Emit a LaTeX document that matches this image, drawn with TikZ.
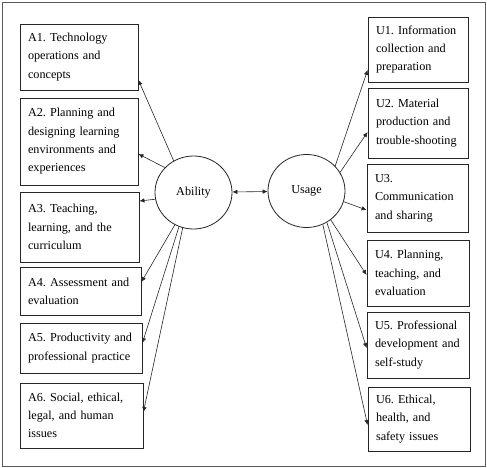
\documentclass[tikz,border=0pt]{standalone}
\usepackage{fontspec}
\setmainfont{Liberation Serif}
\usepackage{tikz}
\usetikzlibrary{arrows.meta,shapes.geometric}
\definecolor{FrameGray}{HTML}{5A5A5A}
\frenchspacing

\begin{document}
\begin{tikzpicture}[x=1pt, y=-1pt,
  dim/.style={draw=black!85, line width=0.8pt, align=left, inner xsep=8pt, inner ysep=2pt, font=\fontsize{12.2}{18.3}\selectfont},
  lat/.style={draw=black!85, line width=0.8pt, ellipse, minimum width=77pt, minimum height=73pt, font=\fontsize{12.2}{15}\selectfont},
  flow/.style={-{Latex[length=5pt,width=4.5pt]}, semithick, black!85},
  dflow/.style={{Latex[length=5pt,width=4.5pt]}-{Latex[length=5pt,width=4.5pt]}, semithick, black!85}]
\useasboundingbox (0,0) rectangle (487,468);
\draw[FrameGray, line width=0.9pt] (2,2) rectangle (485,466);
\node[lat] (ab) at (193.5,192.5) {Ability};
\node[lat] (us) at (306.5,191)   {Usage};
% ability dimensions
\node[dim, text width=102pt, minimum height=66pt] (a1) at (79,57)     {A1. Technology\\operations and\\concepts};
\node[dim, text width=102pt, minimum height=87pt] (a2) at (79,141.5)  {A2. Planning and\\designing learning\\environments and\\experiences};
\node[dim, text width=103pt, minimum height=70pt] (a3) at (79.5,227)  {A3. Teaching,\\learning, and the\\curriculum};
\node[dim, text width=105pt, minimum height=48pt] (a4) at (80.5,291)  {A4. Assessment and\\evaluation};
\node[dim, text width=106pt, minimum height=50pt] (a5) at (81,348)    {A5. Productivity and\\professional practice};
\node[dim, text width=107pt, minimum height=65pt] (a6) at (81.5,415.5) {A6. Social, ethical,\\legal, and human\\issues};
% usage dimensions
\node[dim, text width=84pt, minimum height=65pt] (u1) at (418,49.5)  {U1. Information\\collection and\\preparation};
\node[dim, text width=84pt, minimum height=70pt] (u2) at (418,123)   {U2. Material\\production and\\trouble-shooting};
\node[dim, text width=85pt, minimum height=68pt] (u3) at (417.5,198) {U3.\\Communication\\and sharing};
\node[dim, text width=86pt, minimum height=66pt] (u4) at (418,273)   {U4. Planning,\\teaching, and\\evaluation};
\node[dim, text width=86pt, minimum height=66pt] (u5) at (418,345)   {U5. Professional\\development and\\self-study};
\node[dim, text width=86pt, minimum height=64pt] (u6) at (419,419)   {U6. Ethical,\\health, and\\safety issues};
\draw[dflow] (ab) -- (us);
\draw[flow] (ab.122) -- ([yshift=-23pt]a1.east);
\draw[flow] (ab.139) -- ([yshift=-12.5pt]a2.east);
\draw[flow] (ab.190) -- ([yshift=26pt]a3.east);
\draw[flow] (ab.240) -- ([yshift=9pt]a4.east);
\draw[flow] (ab.247) -- ([yshift=5pt]a5.east);
\draw[flow] (ab.253) -- ([yshift=3.5pt]a6.east);
\draw[flow] (us.41)    -- ([yshift=-20.5pt]u1.west);
\draw[flow] (us.29.5)  -- ([yshift=-9pt]u2.west);
\draw[flow] (us.344)   -- ([yshift=-12pt]u3.west);
\draw[flow] (us.310)   -- ([yshift=-2pt]u4.west);
\draw[flow] (us.303.5) -- ([yshift=-3pt]u5.west);
\draw[flow] (us.296.5) -- ([yshift=-6pt]u6.west);
\end{tikzpicture}
\end{document}
